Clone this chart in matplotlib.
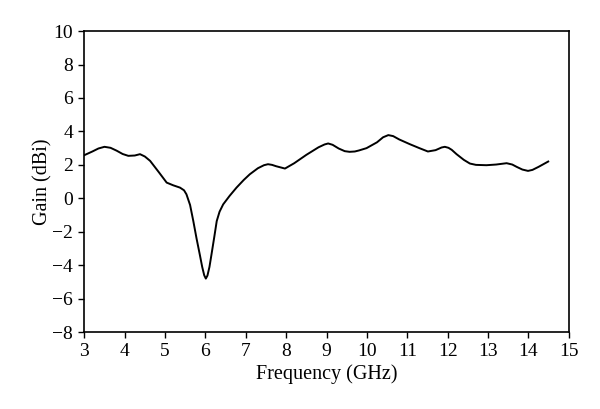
import matplotlib
matplotlib.use("Agg")
import matplotlib.pyplot as plt

freq = [3.0, 3.2, 3.35, 3.5, 3.65, 3.8, 3.95, 4.09, 4.25, 4.38, 4.5, 4.63, 4.85, 5.04, 5.2,
        5.37, 5.47, 5.53, 5.62, 5.70, 5.78, 5.86, 5.92, 5.97, 6.01, 6.05, 6.10, 6.15, 6.22,
        6.28, 6.35, 6.44, 6.6, 6.77, 6.95, 7.10, 7.3, 7.45, 7.55, 7.65, 7.75, 7.97, 8.2, 8.5,
        8.8, 8.95, 9.04, 9.15, 9.3, 9.45, 9.57, 9.7, 9.8, 9.99, 10.25, 10.4, 10.53, 10.65,
        10.8, 11.06, 11.3, 11.51, 11.7, 11.85, 11.93, 12.02, 12.1, 12.22, 12.4, 12.55, 12.7,
        12.96, 13.2, 13.46, 13.6, 13.71, 13.85, 13.99, 14.1, 14.25, 14.49]
gain = [2.58, 2.8, 2.98, 3.08, 3.02, 2.85, 2.65, 2.54, 2.56, 2.64, 2.5, 2.24, 1.55, 0.94,
        0.78, 0.64, 0.48, 0.24, -0.4, -1.36, -2.4, -3.36, -4.1, -4.6, -4.8, -4.62, -4.1,
        -3.36, -2.3, -1.36, -0.8, -0.36, 0.15, 0.64, 1.1, 1.44, 1.8, 1.98, 2.04, 2.0, 1.92,
        1.78, 2.1, 2.6, 3.05, 3.22, 3.28, 3.2, 2.98, 2.82, 2.78, 2.8, 2.86, 3.0, 3.35, 3.65,
        3.78, 3.72, 3.52, 3.24, 3.0, 2.8, 2.88, 3.04, 3.08, 3.02, 2.9, 2.64, 2.3, 2.08, 2.0,
        1.98, 2.02, 2.10, 2.02, 1.88, 1.72, 1.64, 1.7, 1.88, 2.2]

xticks = list(range(3, 16))
yticks = list(range(-8, 11, 2))

plt.rcParams['font.family'] = ['Liberation Serif', 'DejaVu Serif']

fig = plt.figure(figsize=(6.0, 4.09), dpi=100)
ax = fig.add_axes([0.1405, 0.188, 0.8075, 0.736])
ax.plot(freq, gain, color='black', linewidth=1.4, solid_joinstyle='round')
ax.set_xlim(3, 15)
ax.set_ylim(-8, 10)
ax.set_xticks(xticks)
ax.set_yticks(yticks)
ax.set_yticklabels([str(v).replace('-', '\u2212') for v in yticks])
ax.tick_params(direction='out', length=4, width=1, labelsize=14, pad=4)
for s in ax.spines.values():
    s.set_linewidth(1.2)
ax.set_xlabel('Frequency (GHz)', fontsize=14.5, labelpad=3)
ax.set_ylabel('Gain (dBi)', fontsize=14.5, labelpad=0)
fig.savefig('out.png', dpi=100, facecolor='white')
